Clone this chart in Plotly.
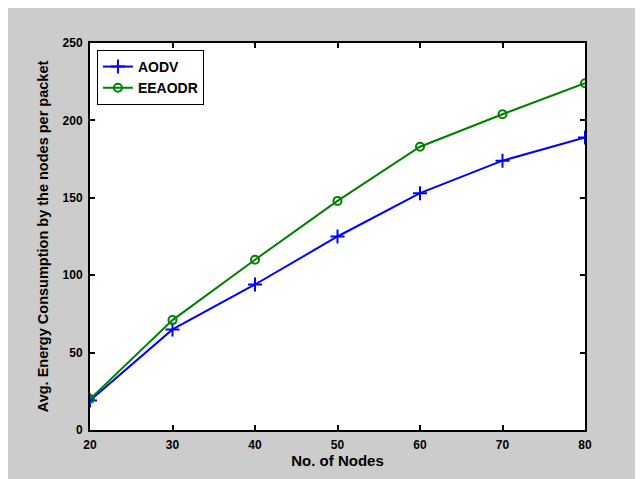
import plotly.graph_objects as go

nodes = [20, 30, 40, 50, 60, 70, 80]
aodv = [19, 65, 94, 125, 153, 174, 189]
eeaodr = [20, 71, 110, 148, 183, 204, 224]
x_ticks = [20, 30, 40, 50, 60, 70, 80]
y_ticks = [0, 50, 100, 150, 200, 250]

# page body has an 8px margin, so the figure is sized to end at the window edge
W, H = 635, 471
L, R, T, B = 82, 58, 35, 47

fig = go.Figure()
fig.add_trace(go.Scatter(x=nodes, y=aodv, name="AODV", mode="lines+markers",
                         line=dict(color="#0000ff", width=2),
                         marker=dict(symbol="cross-thin-open", size=10,
                                     line=dict(color="#0000ff", width=2))))
fig.add_trace(go.Scatter(x=nodes, y=eeaodr, name="EEAODR", mode="lines+markers",
                         line=dict(color="#008000", width=2),
                         marker=dict(symbol="circle-open", size=8,
                                     line=dict(color="#008000", width=2))))

gray = "#cccccc"
tick_font = dict(family="Liberation Sans", size=12, color="black", weight="bold")

axis_common = dict(showline=True, linecolor="black", linewidth=2, mirror="ticks",
                   ticks="inside", ticklen=5, tickwidth=2, tickcolor="black",
                   showgrid=False, zeroline=False, tickfont=tick_font)

fig.update_xaxes(range=[20, 80], tickvals=x_ticks, ticklabelstandoff=3,
                 title=dict(text="No. of Nodes", standoff=4,
                            font=dict(family="Liberation Sans", size=15, color="black", weight="bold")),
                 **axis_common)
fig.update_yaxes(range=[0, 250], tickvals=y_ticks, ticklabelstandoff=3,
                 title=dict(text="Avg. Energy Consumption by the nodes per packet", standoff=10,
                            font=dict(family="Liberation Sans", size=14.5, color="black", weight="bold")),
                 **axis_common)

fig.update_layout(width=W, height=H, margin=dict(l=L, r=R, t=T, b=B),
                  paper_bgcolor=gray, plot_bgcolor="white",
                  legend=dict(x=0.014, y=0.982, xanchor="left", yanchor="top",
                              bgcolor="white", bordercolor="black", borderwidth=1,
                              font=dict(family="Liberation Sans", size=14, color="black",
                                        weight="bold"),
                              tracegroupgap=0),
                  showlegend=True)

fig.write_html("out.html")
